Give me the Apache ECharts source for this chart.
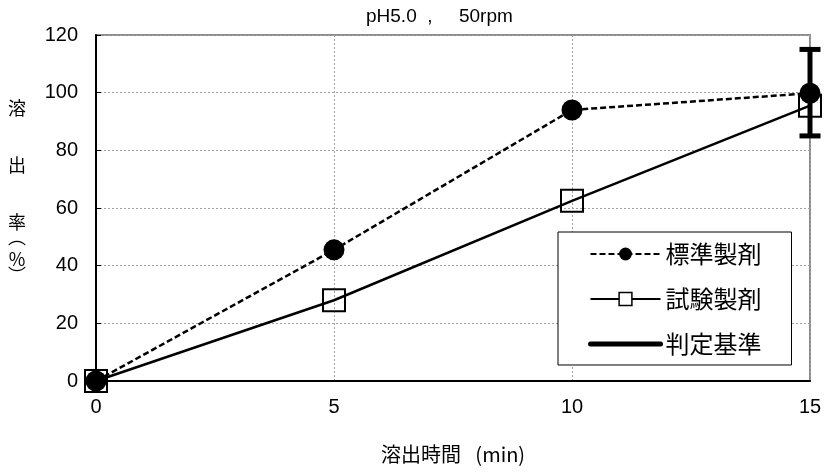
<!DOCTYPE html>
<html><head><meta charset="utf-8">
<script src="https://cdn.jsdelivr.net/npm/echarts@6/dist/echarts.min.js"></script>
<style>html,body{margin:0;padding:0;background:#fff}#c{width:825px;height:474px}</style>
</head><body><div id="c"></div>
<script>
// ---- data ----
const timeMin = [0, 5, 10, 15];
const standardPct = [0, 45.5, 94, 99.8];
const testPct = [0, 28, 62.5, 95.5];
const criterionTime = [15, 15];
const criterionPct = [85, 115];
const xAxisTicks = [0, 5, 10, 15];
const yAxisTicks = [0, 20, 40, 60, 80, 100, 120];
const seriesNames = ['標準製剤', '試験製剤', '判定基準'];
const titleText = 'pH5.0  ,     50rpm';
const xAxisTitle = '溶出時間\u2002 (min)';
const yAxisTitleChars = ['溶', '出', '率', '︵', '%', '︶'];

const LATIN = '"Liberation Sans", Arial, "Noto Sans CJK JP", sans-serif';
const CJK = '"Noto Sans CJK JP", "Liberation Sans", sans-serif';

const zip = (xs, ys) => xs.map((x, i) => [x, ys[i]]);

const yCharPos = [108, 165, 222, 237, 259, 275];

const chart = echarts.init(document.getElementById('c'), null, { renderer: 'canvas' });
chart.setOption({
  animation: false,
  backgroundColor: '#fff',
  title: {
    text: titleText, left: 361, top: 2,
    textStyle: { fontFamily: LATIN, fontSize: 19, fontWeight: 'normal', color: '#000' }
  },
  grid: {
    left: 96, right: 15, top: 35, bottom: 93,
    show: true, borderColor: '#8c8c8c', borderWidth: 2, backgroundColor: 'transparent',
    outerBoundsMode: 'none'
  },
  xAxis: {
    type: 'value',
    min: xAxisTicks[0], max: xAxisTicks[xAxisTicks.length - 1], interval: xAxisTicks[1] - xAxisTicks[0],
    name: xAxisTitle, nameLocation: 'middle', nameGap: 63,
    nameTextStyle: { fontFamily: CJK, fontSize: 20, color: '#000' },
    axisLine: { lineStyle: { color: '#000', width: 2 } },
    axisTick: { show: false },
    axisLabel: { color: '#000', fontSize: 20, fontFamily: LATIN, margin: 16 },
    splitLine: { show: true, lineStyle: { color: '#a0a0a0', type: [2, 2], width: 1 } }
  },
  yAxis: {
    type: 'value',
    min: yAxisTicks[0], max: yAxisTicks[yAxisTicks.length - 1], interval: yAxisTicks[1] - yAxisTicks[0],
    axisLine: { show: true, lineStyle: { color: '#000', width: 2 } },
    axisTick: { show: true, inside: true, length: 5, lineStyle: { color: '#000', width: 1 } },
    axisLabel: { color: '#000', fontSize: 20, fontFamily: LATIN, margin: 18 },
    splitLine: { show: true, lineStyle: { color: '#a0a0a0', type: [2, 2], width: 1 } }
  },
  legend: {
    orient: 'vertical', left: 558, top: 232,
    padding: [10, 30, 9, 30],
    itemGap: 21, itemWidth: 70, itemHeight: 16,
    borderColor: '#000', borderWidth: 1, backgroundColor: '#fff',
    selectedMode: false,
    textStyle: { fontFamily: CJK, fontSize: 24, color: '#000' },
    data: [
      { name: seriesNames[0], itemStyle: { color: '#000' }, lineStyle: { width: 2, type: [6, 3] } },
      { name: seriesNames[1], itemStyle: { color: '#fff', borderColor: '#000', borderWidth: 1.5 }, lineStyle: { width: 2 } },
      { name: seriesNames[2], itemStyle: { opacity: 0 }, lineStyle: { width: 5, cap: 'round' } }
    ]
  },
  graphic: yAxisTitleChars.map((ch, i) => ({
    type: 'text', x: 17, y: yCharPos[i],
    style: { text: ch, fontFamily: CJK, fontSize: 18, fill: '#000', align: 'center', verticalAlign: 'middle' }
  })),
  series: [
    {
      name: seriesNames[2], type: 'line', data: zip(criterionTime, criterionPct),
      symbol: 'rect', symbolSize: [21, 5], clip: false,
      itemStyle: { color: '#000' },
      lineStyle: { color: '#000', width: 5 }
    },
    {
      name: seriesNames[1], type: 'line', data: zip(timeMin, testPct),
      symbol: 'rect', symbolSize: 22, clip: false,
      itemStyle: { color: 'rgba(0,0,0,0)', borderColor: '#000', borderWidth: 2 },
      lineStyle: { color: '#000', width: 2.5 }
    },
    {
      name: seriesNames[0], type: 'line', data: zip(timeMin, standardPct),
      symbol: 'circle', symbolSize: 21, clip: false,
      itemStyle: { color: '#000' },
      lineStyle: { color: '#000', width: 2.5, type: [6, 3] }
    }
  ]
});
</script></body></html>
